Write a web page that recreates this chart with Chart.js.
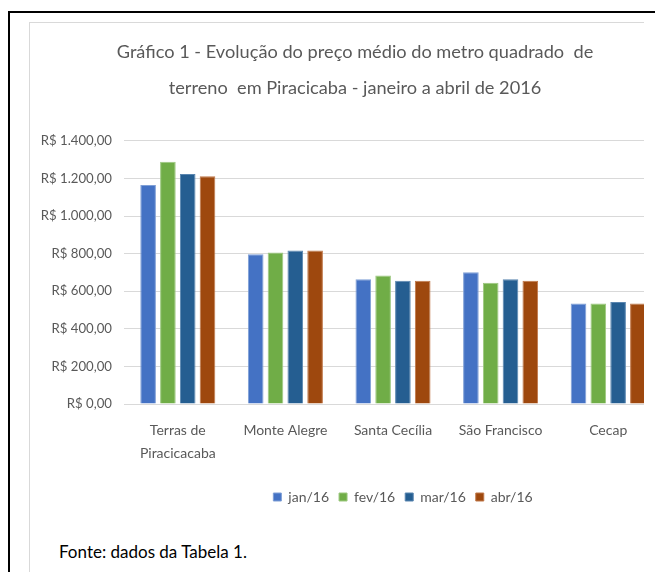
<!DOCTYPE html>
<html>
<head>
<meta charset="utf-8">
<script src="https://cdn.jsdelivr.net/npm/chart.js@4/dist/chart.umd.min.js"></script>
<style>
  html, body { margin: 0; padding: 0; width: 655px; height: 572px; overflow: hidden; background: #fff; }
  #outer { position: absolute; left: 8px; top: 11px; width: 700px; height: 600px;
           border-left: 2px solid #000; border-top: 2px solid #000; }
  #frame { position: absolute; left: 29px; top: 22px; width: 614px; height: 560px; overflow: hidden;
           border-left: 1px solid #d9d9d9; border-top: 1px solid #d9d9d9; }
  #c { position: absolute; left: 0; top: 0; }
  #fonte { position: absolute; left: 59px; top: 541px; font-family: Lato, sans-serif;
           font-size: 17px; color: #000; white-space: nowrap; line-height: 22px; }
</style>
</head>
<body>
<div id="outer"></div>
<div id="frame"><canvas id="c" width="650" height="491"></canvas></div>
<div id="fonte">Fonte: dados da Tabela 1.</div>
<script>
const categories = [['Terras de', 'Piracicacaba'], 'Monte Alegre', 'Santa Cecília', 'São Francisco', 'Cecap'];
const seriesNames = ['jan/16', 'fev/16', 'mar/16', 'abr/16'];
const jan16 = [1165, 797, 664, 701, 534];
const fev16 = [1288, 806, 684, 645, 534];
const mar16 = [1223, 816, 656, 664, 542];
const abr16 = [1212, 816, 656, 656, 534];
const yTickLabels = ['R$ 0,00', 'R$ 200,00', 'R$ 400,00', 'R$ 600,00', 'R$ 800,00', 'R$ 1.000,00', 'R$ 1.200,00', 'R$ 1.400,00'];
const titleLines = ['Gráfico 1 - Evolução do preço médio do metro quadrado  de', 'terreno  em Piracicaba - janeiro a abril de 2016'];

const fam = 'Lato, sans-serif';
const colors = ['#4472C4', '#70AD47', '#255E91', '#9E480E'];
const borders = ['#7f9fd6', '#9cc87f', '#5a86b0', '#c0784a'];
const values = [jan16, fev16, mar16, abr16];

const boxShift = {
  id: 'boxShift',
  afterLayout(chart) {
    const l = chart.legend;
    if (l) { l.left += 57; l.right += 57; }
    const t = chart.titleBlock;
    if (t) { t.left += 9; t.right += 9; }
  }
};

new Chart(document.getElementById('c'), {
  type: 'bar',
  data: {
    labels: categories,
    datasets: seriesNames.map((n, i) => ({
      label: n,
      data: values[i],
      backgroundColor: colors[i],
      borderColor: borders[i],
      borderWidth: 1,
      barPercentage: 0.79,
      categoryPercentage: 0.736
    }))
  },
  options: {
    responsive: false,
    animation: false,
    devicePixelRatio: 1,
    layout: { padding: { left: 0, right: 18, top: 0, bottom: 0 } },
    plugins: {
      title: {
        display: true,
        text: titleLines,
        color: '#595959',
        font: { family: fam, size: 18.2, weight: 'normal', lineHeight: 2.0 },
        padding: { top: 11, bottom: 34 }
      },
      legend: {
        position: 'bottom',
        labels: {
          color: '#595959',
          font: { family: fam, size: 14 },
          boxWidth: 8, boxHeight: 8,
          padding: 10
        }
      },
      tooltip: { enabled: false }
    },
    scales: {
      x: {
        grid: { display: false, drawTicks: false },
        border: { display: true, color: '#d9d9d9' },
        ticks: { color: '#595959', font: { family: fam, size: 14, lineHeight: 1.64 }, padding: 15, maxRotation: 0, autoSkip: false },
        afterFit(s) { s.height = 76; }
      },
      y: {
        min: 0, max: 1400,
        grid: { color: '#d9d9d9', lineWidth: 1, drawTicks: false },
        border: { display: false },
        ticks: {
          stepSize: 200,
          color: '#595959',
          font: { family: fam, size: 13.2 },
          padding: 12,
          callback: (v, i) => yTickLabels[i]
        },
        afterFit(s) { s.width = 94; }
      }
    }
  },
  plugins: [boxShift]
});
</script>
</body>
</html>
